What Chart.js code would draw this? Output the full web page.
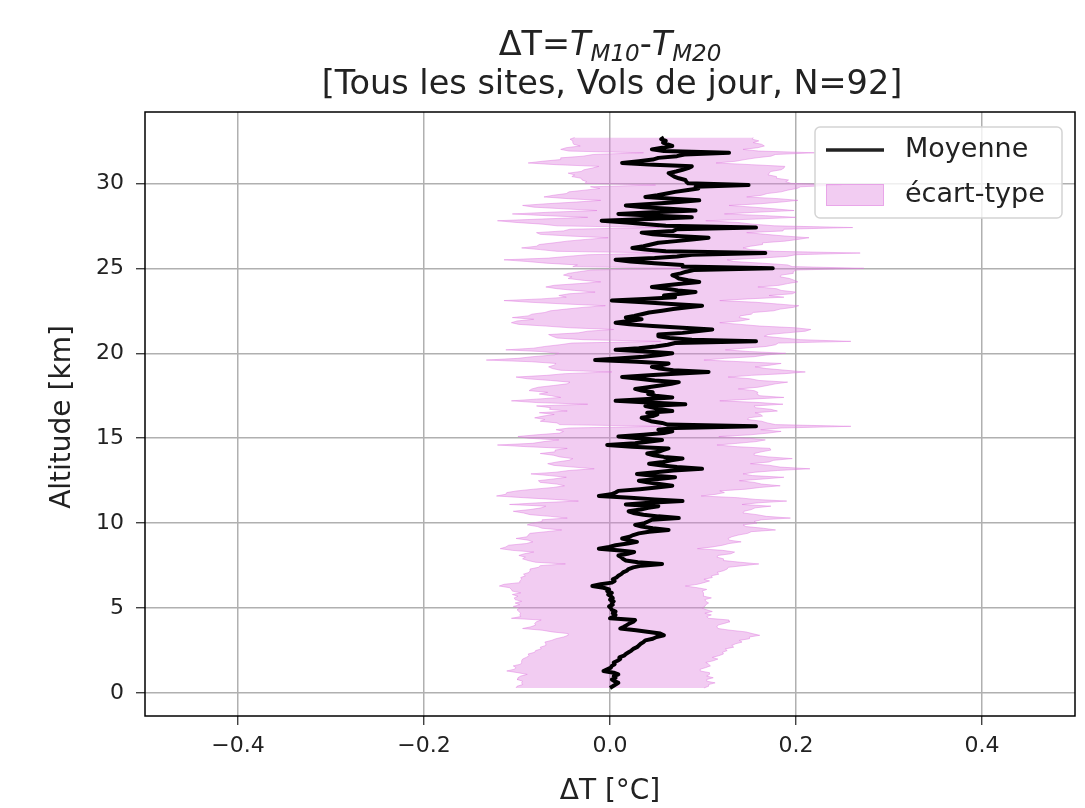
<!DOCTYPE html>
<html>
<head>
<meta charset="utf-8">
<script src="https://cdn.jsdelivr.net/npm/chart.js@4.4.0/dist/chart.umd.min.js"></script>
<style>
  html, body { margin: 0; padding: 0; background: #fff; }
  #wrap { width: 1085px; height: 808px; }
</style>
</head>
<body>
<div id="wrap"><canvas id="profil" width="1085" height="808"></canvas></div>
<script>
// Profil moyen de ΔT (M10 - M20) par niveau d'altitude, pas de 0.1 km
const ALTITUDES = [
  0.3,0.4,0.5,0.6,0.7,0.8,0.9,1.0,1.1,1.2,
  1.3,1.4,1.5,1.6,1.7,1.8,1.9,2.0,2.1,2.2,
  2.3,2.4,2.5,2.6,2.7,2.8,2.9,3.0,3.1,3.2,
  3.3,3.4,3.5,3.6,3.7,3.8,3.9,4.0,4.1,4.2,
  4.3,4.4,4.5,4.6,4.7,4.8,4.9,5.0,5.1,5.2,
  5.3,5.4,5.5,5.6,5.7,5.8,5.9,6.0,6.1,6.2,
  6.3,6.4,6.5,6.6,6.7,6.8,6.9,7.0,7.1,7.2,
  7.3,7.4,7.5,7.6,7.7,7.8,7.9,8.0,8.1,8.2,
  8.3,8.4,8.5,8.6,8.7,8.8,8.9,9.0,9.1,9.2,
  9.3,9.4,9.5,9.6,9.7,9.8,9.9,10.0,10.1,10.2,
  10.3,10.4,10.5,10.6,10.7,10.8,10.9,11.0,11.1,11.2,
  11.3,11.4,11.5,11.6,11.7,11.8,11.9,12.0,12.1,12.2,
  12.3,12.4,12.5,12.6,12.7,12.8,12.9,13.0,13.1,13.2,
  13.3,13.4,13.5,13.6,13.7,13.8,13.9,14.0,14.1,14.2,
  14.3,14.4,14.5,14.6,14.7,14.8,14.9,15.0,15.1,15.2,
  15.3,15.4,15.5,15.6,15.7,15.8,15.9,16.0,16.1,16.2,
  16.3,16.4,16.5,16.6,16.7,16.8,16.9,17.0,17.1,17.2,
  17.3,17.4,17.5,17.6,17.7,17.8,17.9,18.0,18.1,18.2,
  18.3,18.4,18.5,18.6,18.7,18.8,18.9,19.0,19.1,19.2,
  19.3,19.4,19.5,19.6,19.7,19.8,19.9,20.0,20.1,20.2,
  20.3,20.4,20.5,20.6,20.7,20.8,20.9,21.0,21.1,21.2,
  21.3,21.4,21.5,21.6,21.7,21.8,21.9,22.0,22.1,22.2,
  22.3,22.4,22.5,22.6,22.7,22.8,22.9,23.0,23.1,23.2,
  23.3,23.4,23.5,23.6,23.7,23.8,23.9,24.0,24.1,24.2,
  24.3,24.4,24.5,24.6,24.7,24.8,24.9,25.0,25.1,25.2,
  25.3,25.4,25.5,25.6,25.7,25.8,25.9,26.0,26.1,26.2,
  26.3,26.4,26.5,26.6,26.7,26.8,26.9,27.0,27.1,27.2,
  27.3,27.4,27.5,27.6,27.7,27.8,27.9,28.0,28.1,28.2,
  28.3,28.4,28.5,28.6,28.7,28.8,28.9,29.0,29.1,29.2,
  29.3,29.4,29.5,29.6,29.7,29.8,29.9,30.0,30.1,30.2,
  30.3,30.4,30.5,30.6,30.7,30.8,30.9,31.0,31.1,31.2,
  31.3,31.4,31.5,31.6,31.7,31.8,31.9,32.0,32.1,32.2,
  32.3,32.4,32.5,32.6,32.7
];

const MEAN_DT = [
  0.000,0.003,0.006,0.009,0.005,0.002,0.006,0.004,0.009,0.004,
  -0.007,-0.003,0.001,0.002,0.005,0.004,0.008,0.011,0.010,0.015,
  0.017,0.020,0.023,0.025,0.029,0.031,0.033,0.036,0.038,0.046,
  0.050,0.058,0.054,0.042,0.028,0.011,0.015,0.018,0.021,0.025,
  0.027,0.000,0.004,0.006,0.003,0.006,0.002,0.001,-0.001,0.003,
  0.002,0.004,0.000,0.003,0.001,-0.002,0.002,-0.003,-0.001,-0.007,
  -0.019,-0.010,0.002,0.005,0.003,0.007,0.009,0.012,0.014,0.018,
  0.020,0.025,0.034,0.056,0.030,0.017,0.014,0.012,0.009,0.019,
  0.026,0.008,-0.012,-0.001,0.006,0.019,0.029,0.020,0.013,0.021,
  0.025,0.031,0.042,0.063,0.046,0.034,0.027,0.037,0.041,0.045,
  0.074,0.052,0.036,0.025,0.020,0.033,0.041,0.052,0.017,0.042,
  0.078,0.048,0.022,-0.012,0.001,0.006,0.009,0.032,0.050,0.067,
  0.053,0.040,0.031,0.052,0.070,0.044,0.029,0.049,0.068,0.099,
  0.072,0.056,0.042,0.057,0.066,0.078,0.058,0.047,0.040,0.052,
  0.057,0.063,0.024,-0.003,0.027,0.043,0.056,0.031,0.009,0.036,
  0.058,0.067,0.052,0.070,0.157,0.062,0.056,0.044,0.039,0.034,
  0.046,0.051,0.040,0.067,0.054,0.046,0.038,0.081,0.041,0.006,
  0.036,0.067,0.049,0.041,0.046,0.034,0.027,0.041,0.054,0.066,
  0.074,0.048,0.031,0.013,0.042,0.070,0.106,0.068,0.053,0.045,
  0.056,0.063,0.029,-0.016,0.012,0.036,0.054,0.067,0.038,0.006,
  0.031,0.049,0.062,0.070,0.157,0.088,0.064,0.052,0.052,0.078,
  0.093,0.110,0.078,0.046,0.021,0.006,0.020,0.034,0.017,0.026,
  0.034,0.042,0.056,0.068,0.084,0.099,0.066,0.036,0.002,0.037,
  0.070,0.058,0.076,0.092,0.073,0.061,0.045,0.061,0.079,0.096,
  0.084,0.074,0.071,0.067,0.076,0.082,0.090,0.175,0.078,0.078,
  0.048,0.022,0.006,0.048,0.072,0.088,0.167,0.060,0.038,0.024,
  0.036,0.044,0.052,0.071,0.088,0.106,0.072,0.046,0.034,0.068,
  0.072,0.157,0.060,0.040,0.018,-0.009,0.042,0.088,0.049,0.009,
  0.046,0.092,0.064,0.036,0.017,0.047,0.074,0.096,0.068,0.038,
  0.051,0.061,0.070,0.082,0.095,0.092,0.149,0.084,0.082,0.081,
  0.074,0.069,0.066,0.063,0.071,0.078,0.084,0.088,0.047,0.013,
  0.031,0.046,0.052,0.072,0.080,0.128,0.058,0.045,0.056,0.067,
  0.062,0.057,0.060,0.055,0.058
];

const STD_DT = [
  0.101,0.103,0.100,0.104,0.099,0.102,0.105,0.100,0.098,0.103,
  0.104,0.100,0.102,0.106,0.101,0.099,0.103,0.105,0.100,0.102,
  0.105,0.101,0.103,0.099,0.104,0.100,0.102,0.106,0.101,0.104,
  0.100,0.103,0.099,0.104,0.101,0.105,0.100,0.098,0.102,0.104,
  0.101,0.106,0.100,0.103,0.099,0.104,0.102,0.098,0.103,0.100,
  0.104,0.099,0.102,0.106,0.100,0.103,0.098,0.102,0.105,0.101,
  0.100,0.104,0.099,0.102,0.098,0.103,0.100,0.105,0.101,0.104,
  0.106,0.102,0.109,0.104,0.110,0.105,0.108,0.103,0.107,0.111,
  0.108,0.113,0.106,0.111,0.115,0.109,0.112,0.108,0.114,0.110,
  0.113,0.117,0.110,0.115,0.119,0.112,0.116,0.121,0.114,0.118,
  0.120,0.116,0.122,0.118,0.124,0.119,0.115,0.121,0.125,0.118,
  0.112,0.108,0.115,0.110,0.113,0.117,0.109,0.114,0.111,0.116,
  0.110,0.115,0.108,0.113,0.117,0.109,0.114,0.107,0.112,0.116,
  0.111,0.116,0.109,0.114,0.110,0.118,0.112,0.108,0.115,0.111,
  0.116,0.109,0.113,0.118,0.110,0.114,0.111,0.119,0.108,0.115,
  0.112,0.117,0.110,0.114,0.102,0.116,0.113,0.119,0.109,0.115,
  0.118,0.111,0.116,0.113,0.119,0.110,0.117,0.105,0.120,0.112,
  0.115,0.120,0.112,0.117,0.113,0.121,0.111,0.118,0.115,0.112,
  0.117,0.112,0.120,0.114,0.110,0.118,0.104,0.121,0.115,0.111,
  0.116,0.121,0.113,0.117,0.111,0.119,0.114,0.122,0.112,0.118,
  0.113,0.119,0.116,0.111,0.102,0.117,0.121,0.114,0.118,0.112,
  0.117,0.106,0.121,0.115,0.119,0.112,0.120,0.116,0.122,0.114,
  0.118,0.112,0.120,0.115,0.113,0.104,0.114,0.121,0.116,0.111,
  0.117,0.113,0.120,0.108,0.111,0.118,0.114,0.121,0.112,0.106,
  0.114,0.119,0.112,0.117,0.121,0.115,0.110,0.098,0.118,0.113,
  0.116,0.111,0.120,0.114,0.118,0.112,0.102,0.117,0.113,0.119,
  0.115,0.120,0.112,0.117,0.114,0.108,0.116,0.121,0.113,0.118,
  0.115,0.104,0.117,0.113,0.119,0.112,0.116,0.112,0.118,0.114,
  0.111,0.106,0.113,0.118,0.111,0.115,0.110,0.106,0.113,0.109,
  0.112,0.108,0.114,0.109,0.106,0.113,0.100,0.111,0.107,0.111,
  0.105,0.110,0.104,0.108,0.102,0.106,0.103,0.100,0.105,0.101,
  0.104,0.099,0.105,0.101,0.098,0.092,0.102,0.098,0.103,0.099,
  0.101,0.097,0.100,0.098,0.096
];

const X_TICKS = [-0.4, -0.2, 0.0, 0.2, 0.4];
const Y_TICKS = [0, 5, 10, 15, 20, 25, 30];

// titre : ΔT = T_M10 - T_M20 (morceaux en italique / indice)
const TITLE_PARTS = [
  { text: "ΔT=", style: "normal" },
  { text: "T", style: "italic" },
  { text: "M10", style: "sub" },
  { text: "-", style: "normal" },
  { text: "T", style: "italic" },
  { text: "M20", style: "sub" }
];
const TITLE_LINE2 = "[Tous les sites, Vols de jour, N=92]";
const X_LABEL = "ΔT [°C]";
const Y_LABEL = "Altitude [km]";
const LABEL_MEAN = "Moyenne";
const LABEL_STD = "écart-type";

const FONT = '"DejaVu Sans", sans-serif';
const BAND_COLOR = "rgba(222, 120, 222, 0.38)";
const BAND_EDGE = "rgba(222, 120, 222, 0.45)";

const meanPoints = MEAN_DT.map((m, i) => ({ x: m, y: ALTITUDES[i] }));
const lowPoints = MEAN_DT.map((m, i) => ({ x: m - STD_DT[i], y: ALTITUDES[i] }));
const highPoints = MEAN_DT.map((m, i) => ({ x: m + STD_DT[i], y: ALTITUDES[i] }));

function tickText(v) {
  const s = Math.abs(v).toFixed(1);
  return v < -1e-9 ? "\u2212" + s : s;
}

const decorations = {
  id: "decorations",
  afterDatasetsDraw(chart) {
    const { ctx, chartArea: a } = chart;
    ctx.save();
    ctx.strokeStyle = "#000";
    ctx.lineWidth = 1.5;
    ctx.strokeRect(a.left, a.top, a.right - a.left, a.bottom - a.top);
    ctx.restore();
  },
  afterDraw(chart) {
    const { ctx, chartArea: a } = chart;
    ctx.save();
    ctx.fillStyle = "#222";

    // titre, ligne 1 avec indices
    const big = 33.5, small = 23;
    const fontOf = (p) => p.style === "normal" ? `${big}px ${FONT}`
      : p.style === "italic" ? `italic ${big}px ${FONT}` : `italic ${small}px ${FONT}`;
    let total = 0;
    TITLE_PARTS.forEach(p => { ctx.font = fontOf(p); total += ctx.measureText(p.text).width; });
    let x = 610 - total / 2;
    ctx.textBaseline = "alphabetic";
    ctx.textAlign = "left";
    TITLE_PARTS.forEach(p => {
      ctx.font = fontOf(p);
      ctx.fillText(p.text, x, p.style === "sub" ? 61 : 55);
      x += ctx.measureText(p.text).width;
    });
    ctx.font = `${big}px ${FONT}`;
    ctx.textAlign = "center";
    ctx.fillText(TITLE_LINE2, 612, 94);

    // titres des axes
    ctx.font = `28px ${FONT}`;
    ctx.textBaseline = "middle";
    ctx.fillText(X_LABEL, (a.left + a.right) / 2, 792);
    ctx.translate(63, (a.top + a.bottom) / 2 + 3);
    ctx.rotate(-Math.PI / 2);
    ctx.fillText(Y_LABEL, 0, 0);
    ctx.setTransform(1, 0, 0, 1, 0, 0);

    // légende
    const lx = 815, ly = 127, lw = 247, lh = 91, r = 5;
    ctx.beginPath();
    ctx.roundRect(lx, ly, lw, lh, r);
    ctx.fillStyle = "rgba(255,255,255,0.8)";
    ctx.fill();
    ctx.strokeStyle = "#d4d4d4";
    ctx.lineWidth = 1.5;
    ctx.stroke();

    ctx.strokeStyle = "#222";
    ctx.lineWidth = 3.5;
    ctx.beginPath();
    ctx.moveTo(826, 150);
    ctx.lineTo(884, 150);
    ctx.stroke();

    ctx.fillStyle = BAND_COLOR;
    ctx.fillRect(826, 184, 58, 22);
    ctx.strokeStyle = BAND_EDGE;
    ctx.lineWidth = 1;
    ctx.strokeRect(826.5, 184.5, 57, 21);

    ctx.fillStyle = "#222";
    ctx.font = `27px ${FONT}`;
    ctx.textAlign = "left";
    ctx.textBaseline = "middle";
    ctx.fillText(LABEL_MEAN, 905, 150);
    ctx.fillText(LABEL_STD, 905, 195);
    ctx.restore();
  }
};

new Chart(document.getElementById("profil"), {
  type: "line",
  data: {
    datasets: [
      {
        label: LABEL_MEAN,
        data: meanPoints,
        borderColor: "#000",
        borderWidth: 4,
        pointRadius: 0,
        fill: false
      },
      {
        label: "std-bas",
        data: lowPoints,
        borderColor: BAND_EDGE,
        borderWidth: 1,
        pointRadius: 0,
        fill: false
      },
      {
        label: LABEL_STD,
        data: highPoints,
        borderColor: BAND_EDGE,
        backgroundColor: BAND_COLOR,
        borderWidth: 1,
        pointRadius: 0,
        fill: "-1"
      }
    ]
  },
  options: {
    indexAxis: "y",
    responsive: false,
    animation: false,
    devicePixelRatio: 1,
    layout: { padding: { left: 0, right: 10, top: 112, bottom: 0 } },
    elements: { line: { tension: 0, borderJoinStyle: "round" } },
    plugins: {
      legend: { display: false },
      title: { display: false },
      tooltip: { enabled: false }
    },
    scales: {
      x: {
        type: "linear",
        min: -0.5,
        max: 0.5,
        afterBuildTicks: (s) => { s.ticks = X_TICKS.map(v => ({ value: v })); },
        afterFit: (s) => { s.height = 92; },
        ticks: {
          callback: (v) => tickText(v),
          font: { family: FONT, size: 22 },
          color: "#222",
          padding: 8,
          maxRotation: 0
        },
        grid: { color: "#b0b0b0", lineWidth: 1.5, tickLength: 9, tickColor: "#222", tickWidth: 1.2 },
        border: { display: false }
      },
      y: {
        type: "linear",
        min: -1.35,
        max: 34.2,
        afterBuildTicks: (s) => { s.ticks = Y_TICKS.map(v => ({ value: v })); },
        afterFit: (s) => { s.width = 145; },
        ticks: {
          callback: (v) => String(v),
          font: { family: FONT, size: 22 },
          color: "#222",
          padding: 12
        },
        grid: { color: "#b0b0b0", lineWidth: 1.5, tickLength: 9, tickColor: "#222", tickWidth: 1.2 },
        border: { display: false }
      }
    }
  },
  plugins: [decorations]
});
</script>
</body>
</html>
